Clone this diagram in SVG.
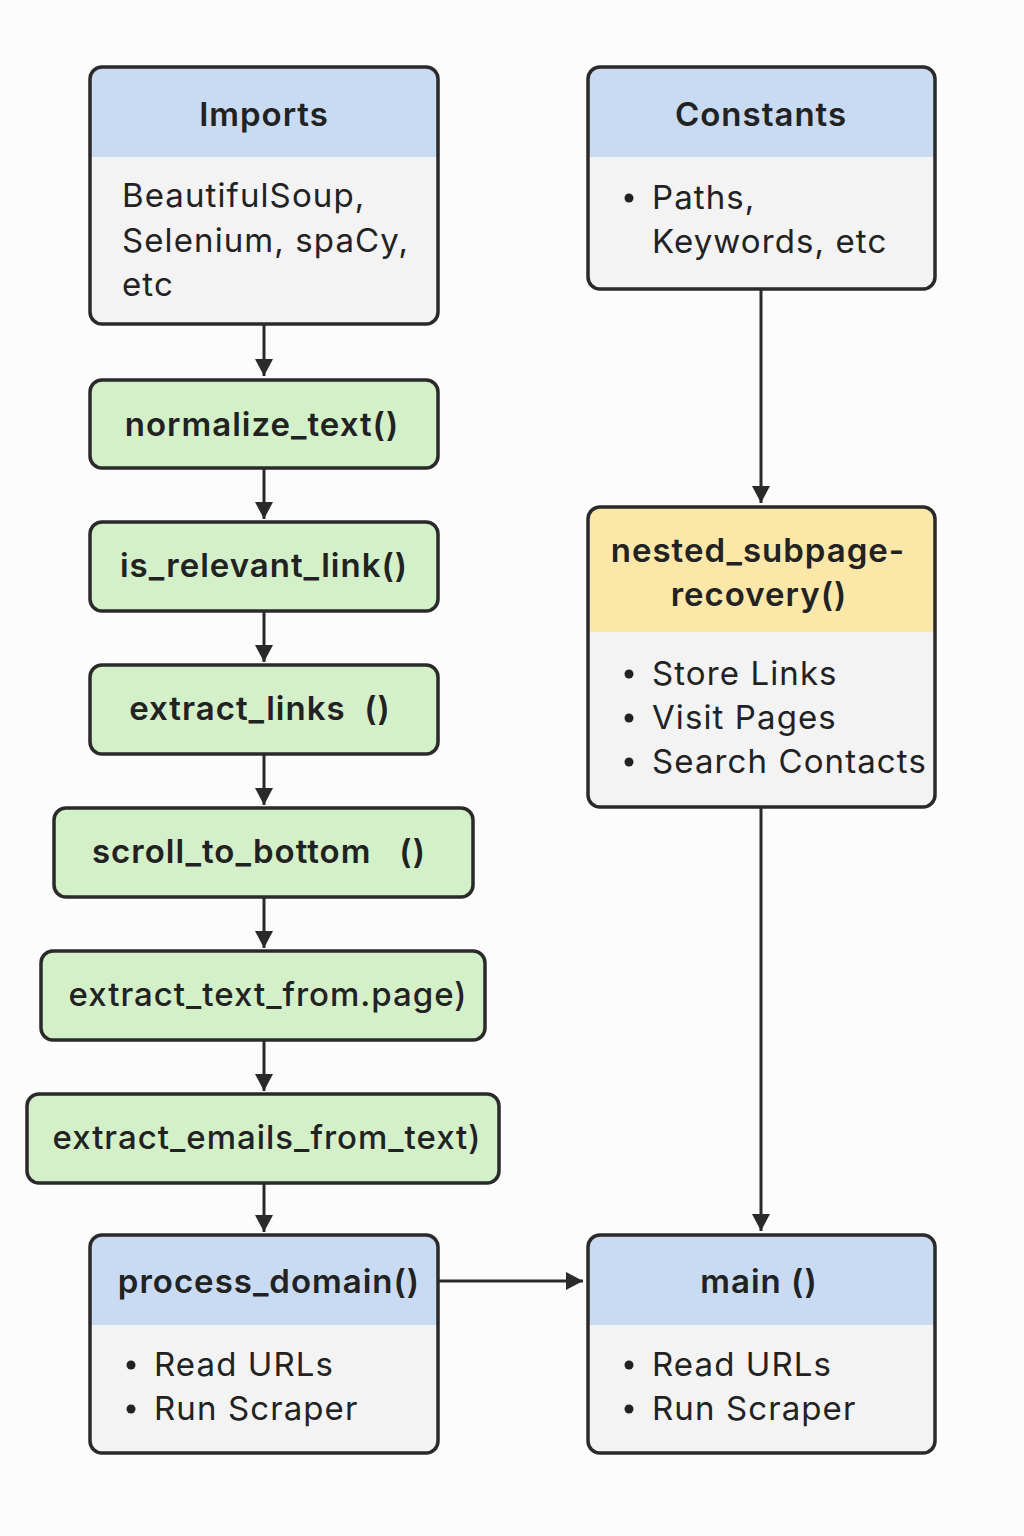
<svg xmlns="http://www.w3.org/2000/svg" width="1024" height="1536" viewBox="0 0 1024 1536">
<defs>
<style>
.box{stroke:#2a2a2a;stroke-width:3.5;fill:none}
.body{fill:#f3f3f3}
.blue{fill:#c8dbf2}
.green{fill:#d3f0c9}
.yellow{fill:#fbe7a8}
.t{font-family:Inter,"Noto Sans","DejaVu Sans",sans-serif;fill:#222}
.h{font-size:33px;font-weight:600;text-anchor:middle;letter-spacing:1px}
.b{font-size:33px;font-weight:400;letter-spacing:1.1px}
.c{stroke:#2a2a2a;stroke-width:3;fill:none}
</style>
<marker id="a" viewBox="0 0 18 18" refX="17" refY="9" markerWidth="18" markerHeight="18" orient="auto" markerUnits="userSpaceOnUse"><path d="M0,0 L17,9 L0,18 Z" fill="#2a2a2a"/></marker>
<clipPath id="c1"><rect x="90" y="67" width="348" height="257" rx="12"/></clipPath>
<clipPath id="c2"><rect x="588" y="67" width="347" height="222" rx="12"/></clipPath>
<clipPath id="c3"><rect x="588" y="507" width="347" height="300" rx="12"/></clipPath>
<clipPath id="c4"><rect x="90" y="1235" width="348" height="218" rx="12"/></clipPath>
<clipPath id="c5"><rect x="588" y="1235" width="347" height="218" rx="12"/></clipPath>
</defs>
<rect width="1024" height="1536" fill="#fcfcfc"/>

<g id="connectors">
<line class="c" x1="264" y1="324" x2="264" y2="376" marker-end="url(#a)"/>
<line class="c" x1="264" y1="468" x2="264" y2="519" marker-end="url(#a)"/>
<line class="c" x1="264" y1="611" x2="264" y2="662" marker-end="url(#a)"/>
<line class="c" x1="264" y1="754" x2="264" y2="805" marker-end="url(#a)"/>
<line class="c" x1="264" y1="897" x2="264" y2="948" marker-end="url(#a)"/>
<line class="c" x1="264" y1="1040" x2="264" y2="1091" marker-end="url(#a)"/>
<line class="c" x1="264" y1="1183" x2="264" y2="1232" marker-end="url(#a)"/>
<line class="c" x1="761" y1="289" x2="761" y2="503" marker-end="url(#a)"/>
<line class="c" x1="761" y1="807" x2="761" y2="1231" marker-end="url(#a)"/>
<line class="c" x1="438" y1="1281" x2="583" y2="1281" marker-end="url(#a)"/>
</g>

<g id="imports">
<g clip-path="url(#c1)"><rect class="body" x="90" y="67" width="348" height="257"/><rect class="blue" x="90" y="67" width="348" height="90"/></g>
<rect class="box" x="90" y="67" width="348" height="257" rx="12"/>
<text class="t h" x="264" y="126">Imports</text>
<text class="t b" x="122" y="207">BeautifulSoup,</text>
<text class="t b" x="122" y="252">Selenium, spaCy,</text>
<text class="t b" x="122" y="296">etc</text>
</g>

<g id="constants">
<g clip-path="url(#c2)"><rect class="body" x="588" y="67" width="347" height="222"/><rect class="blue" x="588" y="67" width="347" height="90"/></g>
<rect class="box" x="588" y="67" width="347" height="222" rx="12"/>
<text class="t h" x="761" y="126">Constants</text>
<circle cx="629" cy="198" r="4.5" fill="#222"/>
<text class="t b" x="652" y="209">Paths,</text>
<text class="t b" x="652" y="253">Keywords, etc</text>
</g>

<g id="normalize_text">
<rect class="green" x="90" y="380" width="348" height="88" rx="12"/>
<rect class="box" x="90" y="380" width="348" height="88" rx="12"/>
<text class="t h" x="262" y="436">normalize_text()</text>
</g>

<g id="is_relevant_link">
<rect class="green" x="90" y="522" width="348" height="89" rx="12"/>
<rect class="box" x="90" y="522" width="348" height="89" rx="12"/>
<text class="t h" x="264" y="577">is_relevant_link()</text>
</g>

<g id="extract_links">
<rect class="green" x="90" y="665" width="348" height="89" rx="12"/>
<rect class="box" x="90" y="665" width="348" height="89" rx="12"/>
<text class="t h" x="260" y="720" xml:space="preserve">extract_links  ()</text>
</g>

<g id="scroll_to_bottom">
<rect class="green" x="54" y="808" width="419" height="89" rx="12"/>
<rect class="box" x="54" y="808" width="419" height="89" rx="12"/>
<text class="t h" x="259" y="863" xml:space="preserve">scroll_to_bottom   ()</text>
</g>

<g id="extract_text_from_page">
<rect class="green" x="41" y="951" width="444" height="89" rx="12"/>
<rect class="box" x="41" y="951" width="444" height="89" rx="12"/>
<text class="t h" x="268" y="1006" style="font-weight:500">extract_text_from.page)</text>
</g>

<g id="extract_emails_from_text">
<rect class="green" x="27" y="1094" width="472" height="89" rx="12"/>
<rect class="box" x="27" y="1094" width="472" height="89" rx="12"/>
<text class="t h" x="267" y="1149" style="font-weight:500">extract_emails_from_text)</text>
</g>

<g id="nested_subpage_recovery">
<g clip-path="url(#c3)"><rect class="body" x="588" y="507" width="347" height="300"/><rect class="yellow" x="588" y="507" width="347" height="125"/></g>
<rect class="box" x="588" y="507" width="347" height="300" rx="12"/>
<text class="t h" x="758" y="562">nested_subpage-</text>
<text class="t h" x="759" y="606">recovery()</text>
<circle cx="629" cy="674" r="4.5" fill="#222"/>
<text class="t b" x="652" y="685">Store Links</text>
<circle cx="629" cy="718" r="4.5" fill="#222"/>
<text class="t b" x="652" y="729">Visit Pages</text>
<circle cx="629" cy="762" r="4.5" fill="#222"/>
<text class="t b" x="652" y="773">Search Contacts</text>
</g>

<g id="process_domain">
<g clip-path="url(#c4)"><rect class="body" x="90" y="1235" width="348" height="218"/><rect class="blue" x="90" y="1235" width="348" height="90"/></g>
<rect class="box" x="90" y="1235" width="348" height="218" rx="12"/>
<text class="t h" x="269" y="1293">process_domain()</text>
<circle cx="131" cy="1365" r="4.5" fill="#222"/>
<text class="t b" x="154" y="1376">Read URLs</text>
<circle cx="131" cy="1409" r="4.5" fill="#222"/>
<text class="t b" x="154" y="1420">Run Scraper</text>
</g>

<g id="main">
<g clip-path="url(#c5)"><rect class="body" x="588" y="1235" width="347" height="218"/><rect class="blue" x="588" y="1235" width="347" height="90"/></g>
<rect class="box" x="588" y="1235" width="347" height="218" rx="12"/>
<text class="t h" x="759" y="1293">main ()</text>
<circle cx="629" cy="1365" r="4.5" fill="#222"/>
<text class="t b" x="652" y="1376">Read URLs</text>
<circle cx="629" cy="1409" r="4.5" fill="#222"/>
<text class="t b" x="652" y="1420">Run Scraper</text>
</g>
</svg>
